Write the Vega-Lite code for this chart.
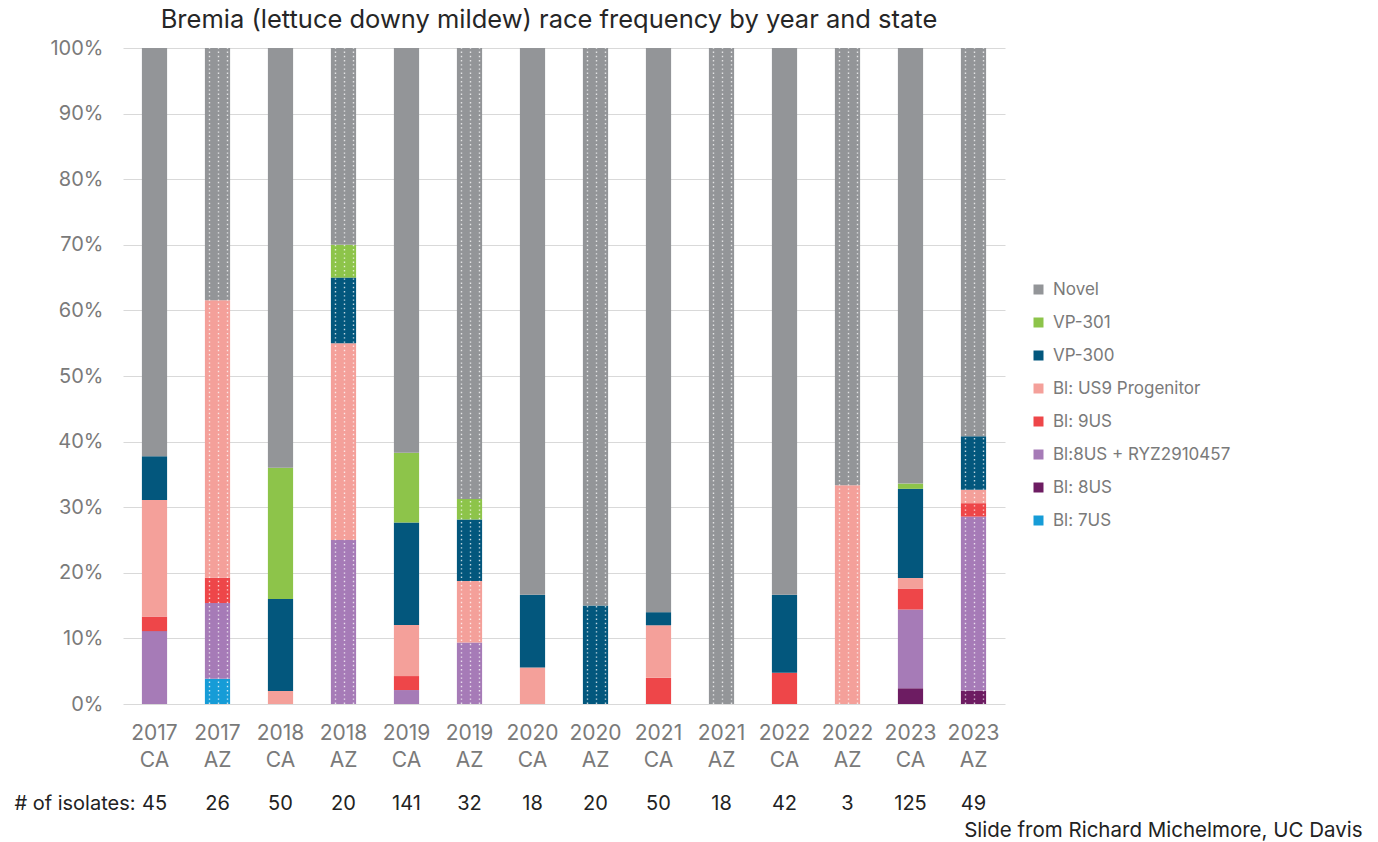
{
  "$schema": "https://vega.github.io/schema/vega-lite/v6.json",
  "autosize": {"type": "none"},
  "padding": {"left": 123, "top": 48, "right": 373, "bottom": 138},
  "width": 882,
  "height": 656,
  "background": "white",
  "config": {
    "view": {"stroke": null},
    "font": "Inter"
  },
  "title": {
    "text": "Bremia (lettuce downy mildew) race frequency by year and state",
    "fontSize": 25.5,
    "fontWeight": "normal",
    "color": "#262626",
    "font": "Inter",
    "anchor": "middle",
    "dx": -15,
    "offset": 5
  },
  "data": {
    "values": [
      {"year": 2017, "state": "CA", "n": 45, "race": "Bl:8US + RYZ2910457", "count": 5},
      {"year": 2017, "state": "CA", "n": 45, "race": "Bl: 9US", "count": 1},
      {"year": 2017, "state": "CA", "n": 45, "race": "Bl: US9 Progenitor", "count": 8},
      {"year": 2017, "state": "CA", "n": 45, "race": "VP-300", "count": 3},
      {"year": 2017, "state": "CA", "n": 45, "race": "Novel", "count": 28},
      {"year": 2017, "state": "AZ", "n": 26, "race": "Bl: 7US", "count": 1},
      {"year": 2017, "state": "AZ", "n": 26, "race": "Bl:8US + RYZ2910457", "count": 3},
      {"year": 2017, "state": "AZ", "n": 26, "race": "Bl: 9US", "count": 1},
      {"year": 2017, "state": "AZ", "n": 26, "race": "Bl: US9 Progenitor", "count": 11},
      {"year": 2017, "state": "AZ", "n": 26, "race": "Novel", "count": 10},
      {"year": 2018, "state": "CA", "n": 50, "race": "Bl: US9 Progenitor", "count": 1},
      {"year": 2018, "state": "CA", "n": 50, "race": "VP-300", "count": 7},
      {"year": 2018, "state": "CA", "n": 50, "race": "VP-301", "count": 10},
      {"year": 2018, "state": "CA", "n": 50, "race": "Novel", "count": 32},
      {"year": 2018, "state": "AZ", "n": 20, "race": "Bl:8US + RYZ2910457", "count": 5},
      {"year": 2018, "state": "AZ", "n": 20, "race": "Bl: US9 Progenitor", "count": 6},
      {"year": 2018, "state": "AZ", "n": 20, "race": "VP-300", "count": 2},
      {"year": 2018, "state": "AZ", "n": 20, "race": "VP-301", "count": 1},
      {"year": 2018, "state": "AZ", "n": 20, "race": "Novel", "count": 6},
      {"year": 2019, "state": "CA", "n": 141, "race": "Bl:8US + RYZ2910457", "count": 3},
      {"year": 2019, "state": "CA", "n": 141, "race": "Bl: 9US", "count": 3},
      {"year": 2019, "state": "CA", "n": 141, "race": "Bl: US9 Progenitor", "count": 11},
      {"year": 2019, "state": "CA", "n": 141, "race": "VP-300", "count": 22},
      {"year": 2019, "state": "CA", "n": 141, "race": "VP-301", "count": 15},
      {"year": 2019, "state": "CA", "n": 141, "race": "Novel", "count": 87},
      {"year": 2019, "state": "AZ", "n": 32, "race": "Bl:8US + RYZ2910457", "count": 3},
      {"year": 2019, "state": "AZ", "n": 32, "race": "Bl: US9 Progenitor", "count": 3},
      {"year": 2019, "state": "AZ", "n": 32, "race": "VP-300", "count": 3},
      {"year": 2019, "state": "AZ", "n": 32, "race": "VP-301", "count": 1},
      {"year": 2019, "state": "AZ", "n": 32, "race": "Novel", "count": 22},
      {"year": 2020, "state": "CA", "n": 18, "race": "Bl: US9 Progenitor", "count": 1},
      {"year": 2020, "state": "CA", "n": 18, "race": "VP-300", "count": 2},
      {"year": 2020, "state": "CA", "n": 18, "race": "Novel", "count": 15},
      {"year": 2020, "state": "AZ", "n": 20, "race": "VP-300", "count": 3},
      {"year": 2020, "state": "AZ", "n": 20, "race": "Novel", "count": 17},
      {"year": 2021, "state": "CA", "n": 50, "race": "Bl: 9US", "count": 2},
      {"year": 2021, "state": "CA", "n": 50, "race": "Bl: US9 Progenitor", "count": 4},
      {"year": 2021, "state": "CA", "n": 50, "race": "VP-300", "count": 1},
      {"year": 2021, "state": "CA", "n": 50, "race": "Novel", "count": 43},
      {"year": 2021, "state": "AZ", "n": 18, "race": "Novel", "count": 18},
      {"year": 2022, "state": "CA", "n": 42, "race": "Bl: 9US", "count": 2},
      {"year": 2022, "state": "CA", "n": 42, "race": "VP-300", "count": 5},
      {"year": 2022, "state": "CA", "n": 42, "race": "Novel", "count": 35},
      {"year": 2022, "state": "AZ", "n": 3, "race": "Bl: US9 Progenitor", "count": 1},
      {"year": 2022, "state": "AZ", "n": 3, "race": "Novel", "count": 2},
      {"year": 2023, "state": "CA", "n": 125, "race": "Bl: 8US", "count": 3},
      {"year": 2023, "state": "CA", "n": 125, "race": "Bl:8US + RYZ2910457", "count": 15},
      {"year": 2023, "state": "CA", "n": 125, "race": "Bl: 9US", "count": 4},
      {"year": 2023, "state": "CA", "n": 125, "race": "Bl: US9 Progenitor", "count": 2},
      {"year": 2023, "state": "CA", "n": 125, "race": "VP-300", "count": 17},
      {"year": 2023, "state": "CA", "n": 125, "race": "VP-301", "count": 1},
      {"year": 2023, "state": "CA", "n": 125, "race": "Novel", "count": 83},
      {"year": 2023, "state": "AZ", "n": 49, "race": "Bl: 8US", "count": 1},
      {"year": 2023, "state": "AZ", "n": 49, "race": "Bl:8US + RYZ2910457", "count": 13},
      {"year": 2023, "state": "AZ", "n": 49, "race": "Bl: 9US", "count": 1},
      {"year": 2023, "state": "AZ", "n": 49, "race": "Bl: US9 Progenitor", "count": 1},
      {"year": 2023, "state": "AZ", "n": 49, "race": "VP-300", "count": 4},
      {"year": 2023, "state": "AZ", "n": 49, "race": "Novel", "count": 29}
    ]
  },
  "transform": [
    {"calculate": "datum.year + ' ' + datum.state + ' ' + datum.n", "as": "bar"},
    {"calculate": "datum.year * 2 + (datum.state == 'AZ' ? 1 : 0)", "as": "ord"},
    {"calculate": "indexof(['Bl: 7US','Bl: 8US','Bl:8US + RYZ2910457','Bl: 9US','Bl: US9 Progenitor','VP-300','VP-301','Novel'], datum.race)", "as": "so"}
  ],
  "layer": [
    {
      "mark": {"type": "bar"},
      "encoding": {
        "x": {
          "field": "bar",
          "type": "nominal",
          "sort": {"field": "ord", "op": "min"},
          "scale": {"paddingInner": 0.6, "paddingOuter": 0.3},
          "axis": {
            "orient": "bottom",
            "labelExpr": "[split(datum.value, ' ')[0], split(datum.value, ' ')[1]]",
            "labelAngle": 0,
            "labelFontSize": 21,
            "labelColor": "#7a7a7a",
            "labelLineHeight": 27,
            "labelPadding": 18,
            "labelBaseline": "top",
            "domain": false,
            "ticks": false,
            "grid": false,
            "title": "Slide from Richard Michelmore, UC Davis",
            "titleFontSize": 20.5,
            "titleFontWeight": "normal",
            "titleColor": "#222222",
            "titleAlign": "right",
            "titleAngle": 0,
            "titleBaseline": "alphabetic",
            "titleX": 1239,
            "titleY": 132
          }
        },
        "y": {
          "field": "count",
          "type": "quantitative",
          "stack": "normalize",
          "scale": {"domain": [0, 1]},
          "axis": {
            "title": null,
            "values": [0, 0.1, 0.2, 0.3, 0.4, 0.5, 0.6, 0.7, 0.8, 0.9, 1],
            "format": ".0%",
            "labelFontSize": 20,
            "labelColor": "#7a7a7a",
            "labelPadding": 20,
            "ticks": false,
            "domain": false,
            "grid": true,
            "gridColor": "#d9d9d9",
            "gridWidth": 1
          }
        },
        "color": {
          "field": "race",
          "type": "nominal",
          "scale": {
            "domain": ["Novel", "VP-301", "VP-300", "Bl: US9 Progenitor", "Bl: 9US", "Bl:8US + RYZ2910457", "Bl: 8US", "Bl: 7US"],
            "range": ["#939598", "#8DC44A", "#03577D", "#F4A09A", "#EE4649", "#A67BB7", "#6D1C62", "#169CD7"]
          },
          "legend": {
            "title": null,
            "orient": "none",
            "legendX": 907,
            "legendY": 233,
            "symbolType": "square",
            "symbolSize": 100,
            "symbolStrokeWidth": 0,
            "labelFontSize": 17,
            "labelColor": "#7a7a7a",
            "labelOffset": 6,
            "rowPadding": 15,
            "labelLimit": 400
          }
        },
        "order": {"field": "so", "type": "quantitative", "sort": "ascending"}
      }
    },
    {
      "transform": [
        {"filter": "datum.state == 'AZ' && datum.race == 'Novel'"}
      ],
      "layer": [
        {
          "mark": {"type": "rule", "color": "white", "strokeWidth": 1.4, "strokeDash": [1.4, 2.8], "opacity": 0.75, "xOffset": -8},
          "encoding": {
            "x": {
              "field": "bar",
              "type": "nominal",
              "sort": {"field": "ord", "op": "min"},
              "axis": {
                "orient": "bottom",
                "labelExpr": "split(datum.value, ' ')[2]",
                "labelAngle": 0,
                "labelFontSize": 20,
                "labelColor": "#222222",
                "labelPadding": 105,
                "labelBaseline": "alphabetic",
                "domain": false,
                "ticks": false,
                "grid": false,
                "title": "# of isolates:",
                "titleFontSize": 20,
                "titleFontWeight": "normal",
                "titleColor": "#222222",
                "titleAlign": "right",
                "titleAngle": 0,
                "titleBaseline": "alphabetic",
                "titleX": 12,
                "titleY": 105
              }
            },
            "y": {"datum": 0, "type": "quantitative"},
            "y2": {"datum": 1}
          }
        },
        {
          "mark": {"type": "rule", "color": "white", "strokeWidth": 1.4, "strokeDash": [1.4, 2.8], "opacity": 0.75, "xOffset": 1},
          "encoding": {
            "x": {"field": "bar", "type": "nominal", "sort": {"field": "ord", "op": "min"}},
            "y": {"datum": 0, "type": "quantitative"},
            "y2": {"datum": 1}
          }
        },
        {
          "mark": {"type": "rule", "color": "white", "strokeWidth": 1.4, "strokeDash": [1.4, 2.8], "opacity": 0.75, "xOffset": 10},
          "encoding": {
            "x": {"field": "bar", "type": "nominal", "sort": {"field": "ord", "op": "min"}},
            "y": {"datum": 0, "type": "quantitative"},
            "y2": {"datum": 1}
          }
        }
      ]
    }
  ],
  "resolve": {"axis": {"x": "independent"}}
}
